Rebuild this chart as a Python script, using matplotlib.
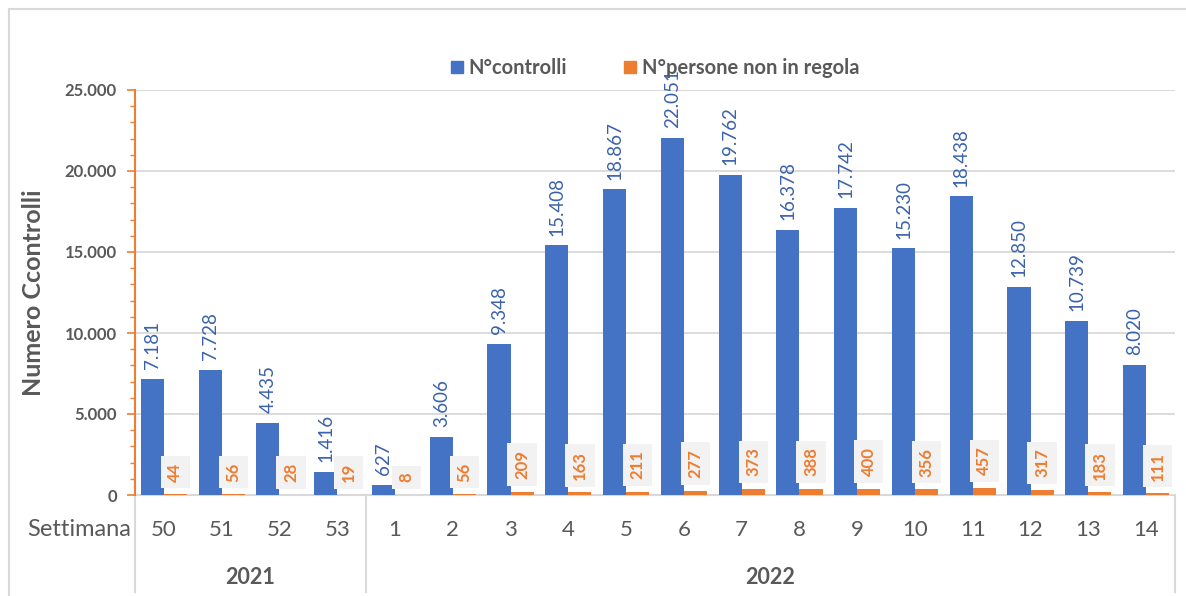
import matplotlib
matplotlib.use("Agg")
import matplotlib.pyplot as plt
from matplotlib.patches import Patch
from matplotlib.lines import Line2D
import numpy as np

plt.rcParams['font.family'] = ['Lato', 'DejaVu Sans']

weeks = ["50", "51", "52", "53", "1", "2", "3", "4", "5", "6", "7", "8", "9", "10", "11", "12", "13", "14"]
years = ["2021", "2022"]
year_counts = [4, 14]
controlli = [7181, 7728, 4435, 1416, 627, 3606, 9348, 15408, 18867, 22051, 19762,
             16378, 17742, 15230, 18438, 12850, 10739, 8020]
non_regola = [44, 56, 28, 19, 8, 56, 209, 163, 211, 277, 373, 388, 400, 356, 457, 317, 183, 111]
series_names = ["N°controlli", "N°persone non in regola"]

BLUE = "#4472C4"
ORANGE = "#ED7D31"
GREY = "#595959"
LGREY = "#D9D9D9"

W, H = 1186, 596
fig = plt.figure(figsize=(W / 100, H / 100), dpi=100)
ax = fig.add_axes([135 / W, 1 - 495 / H, (1175 - 135) / W, (495 - 90) / H])

def fmt(v):
    return f"{v:,}".replace(",", ".")

x = np.arange(len(weeks))
bw = 0.4
ax.bar(x - bw / 2, controlli, bw, color=BLUE, zorder=3)
ax.bar(x + bw / 2, non_regola, bw, color=ORANGE, zorder=3)

for xi, v in zip(x, controlli):
    ax.annotate(fmt(v), (xi - bw / 2, v), xytext=(0, 7), textcoords="offset points",
                rotation=90, ha="center", va="bottom", fontsize=13.5, color="#3A62AC",
                zorder=5, annotation_clip=False)
for xi, v in zip(x, non_regola):
    ax.annotate(fmt(v), (xi + bw / 2, v), xytext=(0, 9), textcoords="offset points",
                rotation=90, ha="center", va="bottom", fontsize=12, fontweight="bold",
                color=ORANGE, zorder=5,
                bbox=dict(boxstyle="square,pad=0.4", fc="#F2F2F2", ec="none"))

ax.set_xlim(-0.5, len(weeks) - 0.5)
ax.set_ylim(0, 25000)
ax.set_yticks(np.arange(0, 25001, 5000))
ax.set_yticklabels([fmt(v) for v in range(0, 25001, 5000)], fontsize=12,
                   fontweight="bold", color=GREY)
ax.set_yticks(np.arange(0, 25001, 1000), minor=True)
ax.tick_params(axis="y", which="major", length=6, width=1.2, color=ORANGE, pad=7)
ax.tick_params(axis="y", which="minor", length=3.5, width=1.0, color=ORANGE)
ax.set_xticks([])
ax.grid(axis="y", color=LGREY, linewidth=1.3, zorder=0)
for s in ["top", "right"]:
    ax.spines[s].set_visible(False)
ax.spines["left"].set_color(ORANGE)
ax.spines["left"].set_linewidth(1.5)
ax.spines["left"].set_zorder(4)
ax.spines["bottom"].set_color(LGREY)
ax.spines["bottom"].set_linewidth(1.5)

ax.set_ylabel("Numero Ccontrolli", fontsize=18, fontweight="bold", color=GREY)
ax.yaxis.set_label_coords((45 - 135) / (1175 - 135), 0.5)

# category axis labels
trans = ax.get_xaxis_transform()
for xi, w in zip(x, weeks):
    ax.text(xi, (495 - 530) / 405, w, transform=trans, ha="center", va="center",
            fontsize=16, color=GREY, clip_on=False)
ax.text((131 - 135) / (1175 - 135), (495 - 530) / 405, "Settimana", transform=ax.transAxes,
        ha="right", va="center", fontsize=17, color=GREY, clip_on=False)

start = -0.5
seps = [start]
for yr, n in zip(years, year_counts):
    ax.text(start + n / 2, (495 - 578) / 405, yr, transform=trans, ha="center", va="center",
            fontsize=15.5, fontweight="bold", color=GREY, clip_on=False)
    start += n
    seps.append(start)
for sx in seps:
    ax.add_line(Line2D([sx, sx], [0, (495 - 592) / 405], transform=trans, color=LGREY,
                       linewidth=1.5, clip_on=False))

# legend
handles = [Patch(color=BLUE), Patch(color=ORANGE)]
leg = fig.legend(handles, series_names, loc="center", bbox_to_anchor=(655 / W, 1 - 68 / H),
                 ncol=2, frameon=False, handlelength=0.6, handleheight=0.6,
                 handletextpad=0.3, columnspacing=2.8,
                 prop=dict(size=14.5, weight="bold"))
for t in leg.get_texts():
    t.set_color(GREY)

# outer frame
fig.add_artist(Line2D([9 / W, 1], [1 - 9 / H, 1 - 9 / H], transform=fig.transFigure,
                      color=LGREY, linewidth=1.5))
fig.add_artist(Line2D([9 / W, 9 / W], [0, 1 - 9 / H], transform=fig.transFigure,
                      color=LGREY, linewidth=1.5))

fig.savefig("out.png", dpi=100)
